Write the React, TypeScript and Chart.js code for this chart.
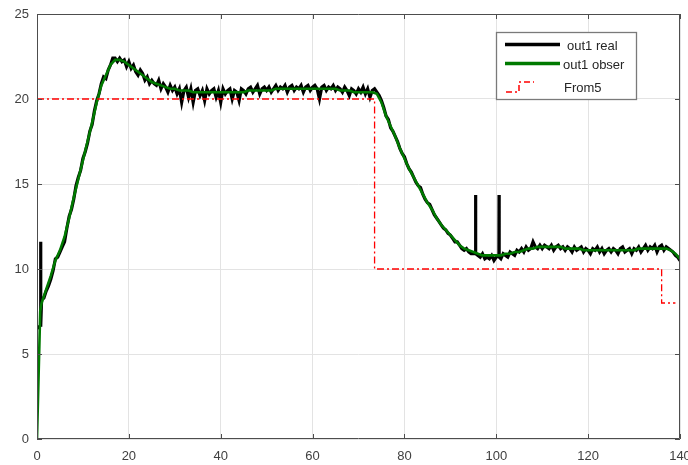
import React, { useEffect, useRef } from "react";
import { Chart, registerables } from "chart.js";

Chart.register(...registerables);

// out1 real (black, measured), sampled every 0.5 s from 0 to 140
const realStep = 0.5;
const realValues: number[] = [
  6.5, 6.6, 8.2, 8.3, 8.7, 9.0, 9.4, 9.9, 10.6, 10.7,
  11.0, 11.3, 11.6, 12.4, 13.1, 13.5, 14.1, 14.9, 15.4, 15.8,
  16.5, 16.9, 17.4, 18.1, 18.5, 19.3, 19.9, 20.3, 20.9, 21.3,
  21.2, 21.7, 22.0, 22.4, 22.4, 22.2, 22.4, 22.2, 22.3, 21.9,
  22.2, 21.8, 22.0, 21.6, 21.4, 21.7, 21.5, 21.1, 21.3, 20.9,
  21.1, 20.9, 20.8, 21.1, 20.6, 20.9, 20.7, 20.4, 20.8, 20.5,
  20.7, 20.3, 20.6, 19.8, 20.5, 20.7, 20.1, 20.6, 19.8, 20.5,
  20.6, 20.2, 20.5, 19.9, 20.6, 20.3, 20.5, 20.6, 20.1, 20.5,
  19.8, 20.6, 20.3, 20.5, 20.6, 20.0, 20.5, 20.4, 19.9, 20.6,
  20.5, 20.3, 20.6, 20.7, 20.4, 20.6, 20.8, 20.3, 20.6, 20.7,
  20.5, 20.7, 20.4, 20.6, 20.8, 20.5, 20.7, 20.6, 20.8, 20.4,
  20.7, 20.8, 20.5, 20.7, 20.6, 20.8, 20.4, 20.7, 20.8, 20.5,
  20.7, 20.8, 20.6, 20.0, 20.7, 20.8, 20.5, 20.7, 20.6, 20.8,
  20.5, 20.7, 20.6, 20.4, 20.7, 20.5, 20.2, 20.6, 20.5, 20.3,
  20.6, 20.4, 20.7, 20.3, 20.6, 20.1, 20.5, 20.6, 20.4, 20.2,
  19.9, 19.5, 19.0, 18.8, 18.3, 18.1, 17.8, 17.5, 17.1, 16.8,
  16.6, 16.2, 15.9, 15.7, 15.4, 15.1, 14.9, 14.8, 14.4, 14.1,
  13.9, 13.8, 13.5, 13.2, 13.0, 12.8, 12.6, 12.4, 12.3, 12.1,
  12.0, 11.8, 11.6, 11.6, 11.4, 11.2, 11.1, 11.2, 11.0, 10.9,
  10.9, 11.0, 10.8, 10.7, 10.9, 10.6, 10.7, 10.6, 10.8, 10.5,
  10.7, 10.8, 10.6, 10.9, 10.8, 10.7, 11.0, 10.9, 10.8, 11.1,
  11.0, 11.2, 11.0, 11.3, 11.1, 11.2, 11.6, 11.3, 11.2, 11.4,
  11.2, 11.4, 11.3, 11.2, 11.4, 11.1, 11.3, 11.4, 11.2, 11.3,
  11.1, 11.3, 11.2, 11.0, 11.3, 11.1, 11.2, 11.3, 11.0, 11.2,
  11.1, 10.9, 11.2, 11.1, 11.3, 11.0, 11.2, 10.9, 11.1, 11.2,
  11.0, 11.2, 11.1, 10.9, 11.2, 11.3, 11.0, 11.1, 11.2, 10.9,
  11.2, 11.1, 11.3, 11.0, 11.2, 11.4, 11.1, 11.3, 11.2, 11.4,
  11.0, 11.3, 11.4, 11.1, 11.3, 11.2, 11.1, 11.0, 10.8, 10.7,
  10.5,
];

// narrow spikes in the real signal
const spikeTimes: number[] = [0.8, 95.5, 100.6];
const spikeTops: number[] = [11.6, 14.35, 14.35];
const spikeBases: number[] = [6.7, 10.9, 10.7];

// out1 obser (green, observer), sampled every 1 s; the first two points are 0 s and 0.7 s
const obsStartTimes: number[] = [0, 0.7];
const obsStartValues: number[] = [0, 7.5];
const obsValues: number[] = [
  8.0, 8.8, 9.6, 10.5, 11.1, 11.9, 13.0, 14.2, 15.3,
  16.4, 17.5, 18.6, 19.8, 20.8, 21.4, 22.0, 22.3, 22.3, 22.2,
  22.0, 21.8, 21.6, 21.4, 21.2, 21.0, 20.9, 20.8, 20.7, 20.6,
  20.6, 20.5, 20.5, 20.5, 20.4, 20.4, 20.4, 20.4, 20.4, 20.4,
  20.4, 20.4, 20.4, 20.4, 20.4, 20.4, 20.5, 20.5, 20.5, 20.5,
  20.5, 20.5, 20.6, 20.6, 20.6, 20.6, 20.6, 20.6, 20.6, 20.6,
  20.6, 20.6, 20.6, 20.6, 20.6, 20.6, 20.5, 20.5, 20.5, 20.4,
  20.4, 20.4, 20.4, 20.4, 20.3, 19.8, 19.0, 18.4, 17.8, 17.1,
  16.5, 15.9, 15.4, 14.9, 14.4, 13.9, 13.5, 13.0, 12.6, 12.3,
  12.0, 11.7, 11.4, 11.2, 11.1, 11.0, 10.9, 10.8, 10.8, 10.8,
  10.8, 10.8, 10.9, 10.9, 11.0, 11.0, 11.1, 11.2, 11.2, 11.3,
  11.3, 11.3, 11.3, 11.3, 11.3, 11.2, 11.2, 11.2, 11.2, 11.1,
  11.1, 11.1, 11.1, 11.1, 11.1, 11.1, 11.1, 11.1, 11.1, 11.1,
  11.1, 11.2, 11.2, 11.2, 11.2, 11.2, 11.2, 11.2, 11.1, 10.9,
  10.6,
];

// From5 reference (red step)
const refTimes: number[] = [0, 73.5, 73.5, 136, 136, 139];
const refValues: number[] = [20, 20, 10, 10, 8, 8];

const xTicks = [0, 20, 40, 60, 80, 100, 120, 140];
const yTicks = [0, 5, 10, 15, 20, 25];

const FONT = "'Liberation Sans', Arial, sans-serif";

const frameTicks = {
  id: "frameTicks",
  afterDraw(chart: any) {
    const { ctx, chartArea: a, scales } = chart;
    ctx.save();
    ctx.strokeStyle = "#4d4d4d";
    ctx.lineWidth = 1;
    ctx.beginPath();
    ctx.rect(a.left + 0.5, a.top + 0.5, a.right - a.left - 1, a.bottom - a.top - 1);
    ctx.stroke();
    const tl = 5;
    ctx.beginPath();
    for (const v of xTicks) {
      const px = Math.round(scales.x.getPixelForValue(v)) + 0.5;
      ctx.moveTo(px, a.bottom);
      ctx.lineTo(px, a.bottom - tl);
      ctx.moveTo(px, a.top);
      ctx.lineTo(px, a.top + tl);
    }
    for (const v of yTicks) {
      const py = Math.round(scales.y.getPixelForValue(v)) + 0.5;
      ctx.moveTo(a.left, py);
      ctx.lineTo(a.left + tl, py);
      ctx.moveTo(a.right, py);
      ctx.lineTo(a.right - tl, py);
    }
    ctx.stroke();

    // legend
    const bx = 496, by = 32, bw = 140, bh = 67;
    ctx.fillStyle = "#ffffff";
    ctx.fillRect(bx, by, bw, bh);
    ctx.strokeStyle = "#7a7a7a";
    ctx.lineWidth = 1.3;
    ctx.strokeRect(bx + 0.5, by + 0.5, bw, bh);

    ctx.lineWidth = 3.5;
    ctx.strokeStyle = "#000000";
    ctx.beginPath();
    ctx.moveTo(505, 44.5);
    ctx.lineTo(560, 44.5);
    ctx.stroke();
    ctx.strokeStyle = "#007a00";
    ctx.beginPath();
    ctx.moveTo(505, 63.5);
    ctx.lineTo(560, 63.5);
    ctx.stroke();

    ctx.strokeStyle = "#ff0000";
    ctx.lineWidth = 1.5;
    ctx.setLineDash([6, 3, 2, 3]);
    ctx.beginPath();
    ctx.moveTo(506, 92);
    ctx.lineTo(519, 92);
    ctx.lineTo(519, 82);
    ctx.lineTo(534, 82);
    ctx.stroke();
    ctx.setLineDash([]);

    ctx.fillStyle = "#262626";
    ctx.font = `13px ${FONT}`;
    ctx.textAlign = "left";
    ctx.textBaseline = "middle";
    ctx.fillText("out1 real", 567, 46);
    ctx.fillText("out1 obser", 563, 65);
    ctx.fillText("From5", 564, 88);
    ctx.restore();
  },
};

export default function App() {
  const ref = useRef<HTMLCanvasElement | null>(null);

  useEffect(() => {
    if (!ref.current) return;

    const realPts: { x: number; y: number }[] = realValues.map((v, i) => ({ x: i * realStep, y: v }));
    spikeTimes.forEach((t, i) => {
      realPts.push({ x: t - 0.03, y: spikeBases[i] });
      realPts.push({ x: t, y: spikeTops[i] });
      realPts.push({ x: t + 0.03, y: spikeBases[i] });
    });
    realPts.sort((a, b) => a.x - b.x);

    const obsPts = [
      ...obsStartTimes.map((t, i) => ({ x: t, y: obsStartValues[i] })),
      ...obsValues.map((v, i) => ({ x: i + 1, y: v })),
    ];

    const refPts = refTimes.map((t, i) => ({ x: t, y: refValues[i] }));

    const chart = new Chart(ref.current, {
      type: "line",
      data: {
        datasets: [
          {
            label: "From5",
            data: refPts,
            borderColor: "#ff0000",
            borderWidth: 1.3,
            borderDash: [7, 3, 2, 3],
            pointRadius: 0,
            tension: 0,
            order: 1,
          },
          {
            label: "out1 real",
            data: realPts,
            borderColor: "#000000",
            borderWidth: 3.2,
            pointRadius: 0,
            tension: 0,
            order: 3,
          },
          {
            label: "out1 obser",
            data: obsPts,
            borderColor: "#007a00",
            borderWidth: 2.6,
            pointRadius: 0,
            tension: 0,
            order: 2,
          },
        ],
      },
      options: {
        animation: false,
        responsive: false,
        layout: { padding: { top: 14, right: 8, left: 0, bottom: 0 } },
        plugins: { legend: { display: false }, tooltip: { enabled: false } },
        scales: {
          x: {
            type: "linear",
            min: 0,
            max: 140,
            afterBuildTicks: (s: any) => { s.ticks = xTicks.map((v) => ({ value: v })); },
            afterFit: (s: any) => { s.height = 26; s.paddingLeft = 0; s.paddingRight = 0; },
            ticks: { color: "#404040", font: { family: FONT, size: 13 }, padding: 10, maxRotation: 0 },
            grid: { color: "#e3e3e3", lineWidth: 1, drawTicks: false },
            border: { display: false },
          },
          y: {
            type: "linear",
            min: 0,
            max: 25,
            afterBuildTicks: (s: any) => { s.ticks = yTicks.map((v) => ({ value: v })); },
            afterFit: (s: any) => { s.width = 37; s.paddingTop = 0; s.paddingBottom = 0; },
            ticks: { color: "#404040", font: { family: FONT, size: 13 }, padding: 8 },
            grid: { color: "#e3e3e3", lineWidth: 1, drawTicks: false },
            border: { display: false },
          },
        },
      },
      plugins: [frameTicks],
    });
    return () => chart.destroy();
  }, []);

  return (
    <div style={{ position: "absolute", left: 0, top: 0, width: 688, height: 465, background: "#fff" }}>
      <canvas ref={ref} width={688} height={465} />
    </div>
  );
}
